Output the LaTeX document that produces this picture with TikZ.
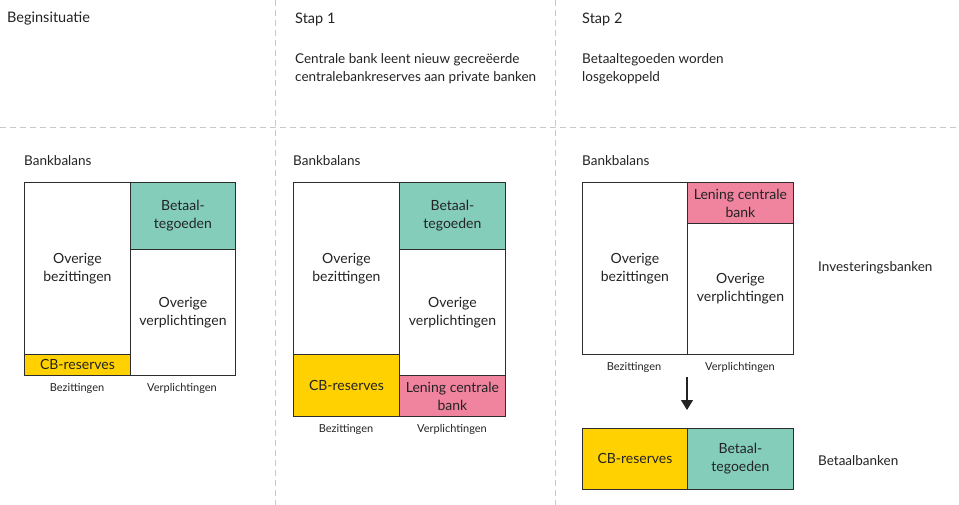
\documentclass[tikz,border=0pt]{standalone}
\usepackage{fontspec}
\setmainfont{Lato}
\usepackage{tikz}
\usetikzlibrary{arrows.meta, positioning}
\definecolor{bbtext}{RGB}{35,35,35}
\definecolor{bbline}{RGB}{45,45,45}
\definecolor{bbdash}{RGB}{200,200,200}
\definecolor{bbteal}{RGB}{132,205,187}
\definecolor{bbyellow}{RGB}{255,209,0}
\definecolor{bbpink}{RGB}{240,132,158}
\tikzset{
  cell/.style={rectangle, draw=bbline, line width=0.9pt, anchor=north west,
    inner sep=0pt, align=center, text=bbtext, font=\fontsize{14}{18}\selectfont},
  tealcell/.style={cell, fill=bbteal},
  yellowcell/.style={cell, fill=bbyellow},
  pinkcell/.style={cell, fill=bbpink},
  title/.style={anchor=west, inner sep=0pt, text=bbtext, font=\fontsize{13.5}{18}\selectfont, align=left},
  bigtitle/.style={title, font=\fontsize{14.5}{18}\selectfont},
  axislabel/.style={inner sep=0pt, text=bbtext, font=\fontsize{11}{13}\selectfont},
  divider/.style={draw=bbdash, line width=0.8pt, dash pattern=on 6pt off 4pt},
  arrow/.style={-{Triangle[width=12pt,length=10pt]}, line width=1.1pt, color=bbtext}
}

\begin{document}
\begin{tikzpicture}[x=1pt, y=-1pt]
  \useasboundingbox (0,0) rectangle (959,505);

  % Panel dividers
  \draw[divider] (0,127) -- (959,127);
  \draw[divider] (275,0) -- (275,505);
  \draw[divider] (555,0) -- (555,505);

  % Headers
  \node[bigtitle] (h0) at (7,19) {Beginsituatie};
  \node[bigtitle] (h1) at (295,19) {Stap 1};
  \node[bigtitle] (h2) at (582,19) {Stap 2};
  \node[title] (d1) at (295,69) {Centrale bank leent nieuw gecreëerde\\centralebankreserves aan private banken};
  \node[title] (d2) at (582,69) {Betaaltegoeden worden\\losgekoppeld};

  % Beginsituatie
  \node[title] (bb0) at (24,161) {Bankbalans};
  \node[cell, minimum width=106, minimum height=172] (ob0) at (24,182) {Overige\\bezittingen};
  \node[yellowcell, minimum width=106, minimum height=21] (cb0) at (24,354) {CB-reserves};
  \node[tealcell, minimum width=105, minimum height=67] (bt0) at (130,182) {Betaal-\\tegoeden};
  \node[cell, minimum width=105, minimum height=126] (ov0) at (130,249) {Overige\\verplichtingen};
  \node[axislabel] (bz0) at (77,388) {Bezittingen};
  \node[axislabel] (vp0) at (182,388) {Verplichtingen};

  % Stap 1
  \node[title] (bb1) at (293,161) {Bankbalans};
  \node[cell, minimum width=106, minimum height=172] (ob1) at (293,182) {Overige\\bezittingen};
  \node[yellowcell, minimum width=106, minimum height=62] (cb1) at (293,354) {CB-reserves};
  \node[tealcell, minimum width=106, minimum height=67] (bt1) at (399,182) {Betaal-\\tegoeden};
  \node[cell, minimum width=106, minimum height=126] (ov1) at (399,249) {Overige\\verplichtingen};
  \node[pinkcell, minimum width=106, minimum height=41] (ln1) at (399,375) {Lening centrale\\bank};
  \node[axislabel] (bz1) at (346,429) {Bezittingen};
  \node[axislabel] (vp1) at (452,429) {Verplichtingen};

  % Stap 2
  \node[title] (bb2) at (582,161) {Bankbalans};
  \node[cell, minimum width=105, minimum height=172] (ob2) at (582,182) {Overige\\bezittingen};
  \node[pinkcell, minimum width=106, minimum height=41] (ln2) at (687,182) {Lening centrale\\bank};
  \node[cell, minimum width=106, minimum height=131] (ov2) at (687,223) {Overige\\verplichtingen};
  \node[axislabel] (bz2) at (634,367) {Bezittingen};
  \node[axislabel] (vp2) at (740,367) {Verplichtingen};
  \node[title] (ib) at (818,268) {Investeringsbanken};

  % Betaalbank
  \coordinate (atop) at (687,377);
  \coordinate (atip) at (687,410);
  \draw[arrow] (atop) -- (atip);
  \node[yellowcell, minimum width=105, minimum height=61] (cb3) at (582,428) {CB-reserves};
  \node[tealcell, minimum width=106, minimum height=61] (bt3) at (687,428) {Betaal-\\tegoeden};
  \node[title] (pb) at (818,461) {Betaalbanken};
\end{tikzpicture}
\end{document}
